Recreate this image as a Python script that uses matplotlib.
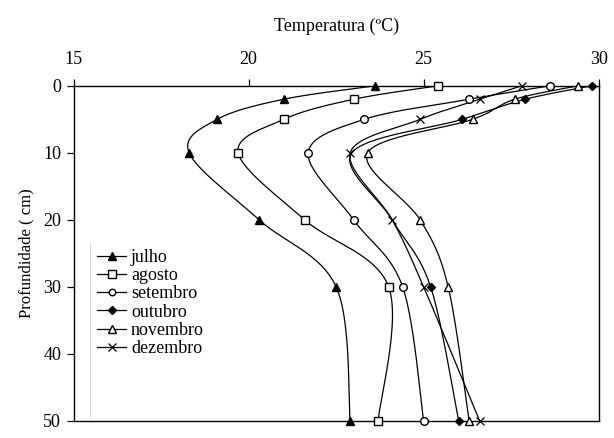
import numpy as np
import matplotlib
matplotlib.use('Agg')
import matplotlib.pyplot as plt

# depth (cm) and monthly soil temperature profiles (C)
depth = [0, 2, 5, 10, 20, 30, 50]
julho = [23.6, 21.0, 19.1, 18.3, 20.3, 22.5, 22.9]
agosto = [25.4, 23.0, 21.0, 19.7, 21.6, 24.0, 23.7]
setembro = [28.6, 26.3, 23.3, 21.7, 23.0, 24.4, 25.0]
outubro = [29.8, 27.9, 26.1, 22.95, 24.1, 25.2, 26.0]
novembro = [29.4, 27.6, 26.4, 23.4, 24.9, 25.7, 26.3]
dezembro = [27.8, 26.6, 24.9, 22.9, 24.1, 25.0, 26.6]

plt.rcParams['font.family'] = ['Liberation Serif', 'DejaVu Serif']

fig = plt.figure(figsize=(6.14, 4.38), dpi=100)
ax = fig.add_axes([0.12, 0.039, 0.855, 0.765])


def smooth(xs, ys, sx=35.0, sy=6.7, n=30):
    # catmull-rom style bezier (like excel smoothed lines), in pixel space
    p = np.column_stack([np.asarray(xs) * sx, np.asarray(ys) * sy])
    p = np.vstack([p[0], p, p[-1]])
    out = []
    t = np.linspace(0, 1, n)[:, None]
    for i in range(1, len(p) - 2):
        p0, p1, p2, p3 = p[i - 1], p[i], p[i + 1], p[i + 2]
        c1 = p1 + (p2 - p0) / 6
        c2 = p2 - (p3 - p1) / 6
        seg = ((1 - t) ** 3) * p1 + 3 * ((1 - t) ** 2) * t * c1 \
            + 3 * (1 - t) * t ** 2 * c2 + t ** 3 * p2
        out.append(seg)
    out = np.vstack(out)
    return out[:, 0] / sx, out[:, 1] / sy


series = [
    ('julho', julho, dict(marker='^', mfc='black', ms=6)),
    ('agosto', agosto, dict(marker='s', mfc='white', ms=6)),
    ('setembro', setembro, dict(marker='o', mfc='white', ms=5.5)),
    ('outubro', outubro, dict(marker='D', mfc='black', ms=4.5)),
    ('novembro', novembro, dict(marker='^', mfc='white', ms=6)),
    ('dezembro', dezembro, dict(marker='x', mfc='none', ms=6, mew=0.9)),
]

for name, vals, st in series:
    sx, sy = smooth(vals, depth)
    ax.plot(sx, sy, color='black', lw=0.9, zorder=2)
    idx = list(range(len(depth)))
    if name == 'outubro':
        idx = [0, 1, 2, 5, 6]  # hidden under the dezembro marks here
    ax.plot([vals[i] for i in idx], [depth[i] for i in idx], ls='none',
            color='black', mec='black', zorder=3, clip_on=False, **st)
    # legend proxy
    ax.plot([], [], color='black', lw=0.9, mec='black', label=name,
            **dict(st, ms=st['ms'] * 0.85))

ax.set_xlim(15, 30)
ax.set_ylim(50, 0)
ax.set_xticks([15, 20, 25, 30])
ax.set_yticks([0, 10, 20, 30, 40, 50])
ax.xaxis.tick_top()
ax.xaxis.set_label_position('top')
ax.tick_params(axis='x', direction='out', length=5, width=0.9, pad=7.5, labelsize=13)
ax.tick_params(axis='y', direction='out', length=5, width=0.9, pad=4, labelsize=13)
for s in ax.spines.values():
    s.set_linewidth(1.0)
ax.set_xlabel('Temperatura (ºC)', fontsize=13, labelpad=15)
ax.set_ylabel('Profundidade ( cm)', fontsize=12, labelpad=6)

leg = ax.legend(loc='upper left', bbox_to_anchor=(0.03, 0.535), frameon=False,
                fontsize=13, handlelength=1.65, handletextpad=0.25,
                labelspacing=0.07, borderaxespad=0)

# faint left edge of the legend box, as in the original
ax.plot([0.031, 0.031], [0.012, 0.53], transform=ax.transAxes,
        color='#d8d8d8', lw=0.8, zorder=1)

fig.savefig('out.png', dpi=100)
